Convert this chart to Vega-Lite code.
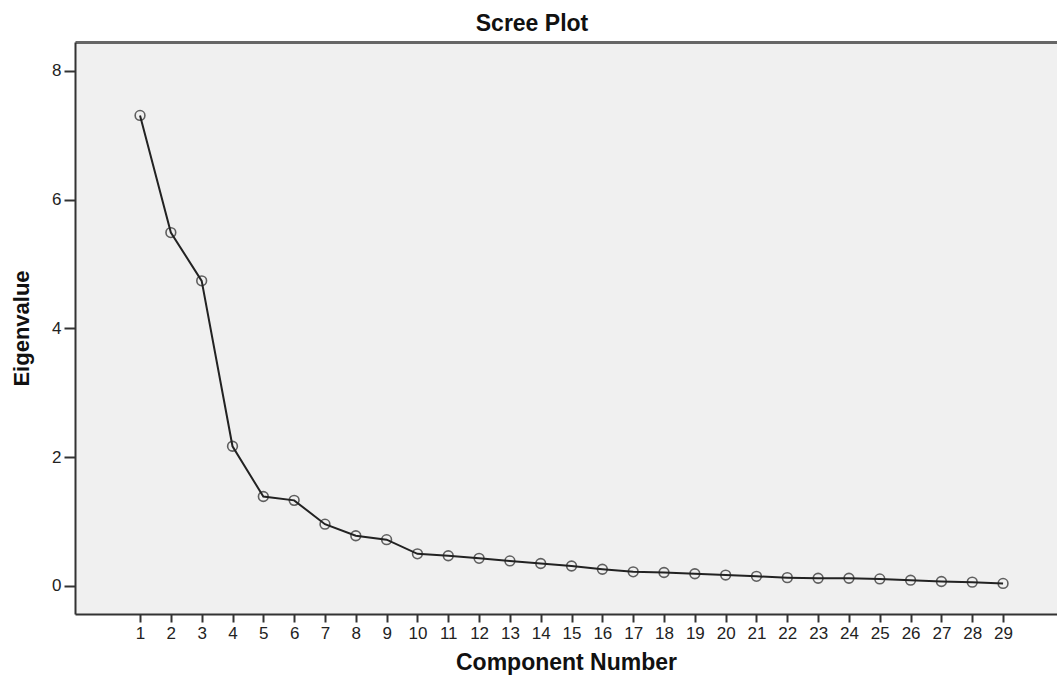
{
  "$schema": "https://vega.github.io/schema/vega-lite/v6.json",
  "width": 982,
  "height": 572,
  "autosize": {"type": "none"},
  "padding": {"left": 75, "top": 42, "right": 0, "bottom": 63},
  "background": "white",
  "config": {
    "view": {"fill": "#f0f0f0", "stroke": null},
    "font": "Liberation Sans"
  },
  "title": {
    "text": "Scree Plot",
    "font": "Liberation Sans",
    "fontSize": 23,
    "fontWeight": "bold",
    "color": "#111",
    "anchor": "middle",
    "frame": "group",
    "baseline": "alphabetic",
    "offset": 8,
    "dx": -34,
    "dy": 20
  },
  "data": {
    "values": [
      {"component": 1, "eigenvalue": 7.31},
      {"component": 2, "eigenvalue": 5.49},
      {"component": 3, "eigenvalue": 4.74},
      {"component": 4, "eigenvalue": 2.17},
      {"component": 5, "eigenvalue": 1.39},
      {"component": 6, "eigenvalue": 1.33},
      {"component": 7, "eigenvalue": 0.96},
      {"component": 8, "eigenvalue": 0.78},
      {"component": 9, "eigenvalue": 0.72},
      {"component": 10, "eigenvalue": 0.5},
      {"component": 11, "eigenvalue": 0.47},
      {"component": 12, "eigenvalue": 0.43},
      {"component": 13, "eigenvalue": 0.39},
      {"component": 14, "eigenvalue": 0.35},
      {"component": 15, "eigenvalue": 0.31},
      {"component": 16, "eigenvalue": 0.26},
      {"component": 17, "eigenvalue": 0.22},
      {"component": 18, "eigenvalue": 0.21},
      {"component": 19, "eigenvalue": 0.19},
      {"component": 20, "eigenvalue": 0.17},
      {"component": 21, "eigenvalue": 0.15},
      {"component": 22, "eigenvalue": 0.13},
      {"component": 23, "eigenvalue": 0.12},
      {"component": 24, "eigenvalue": 0.12},
      {"component": 25, "eigenvalue": 0.11},
      {"component": 26, "eigenvalue": 0.09},
      {"component": 27, "eigenvalue": 0.07},
      {"component": 28, "eigenvalue": 0.06},
      {"component": 29, "eigenvalue": 0.04}
    ]
  },
  "resolve": {"axis": {"x": "independent", "y": "independent"}},
  "layer": [
    {
      "mark": {"type": "line", "color": "#222", "strokeWidth": 2},
      "encoding": {
        "x": {
          "field": "component",
          "type": "quantitative",
          "scale": {"domain": [-1.11, 30.75], "nice": false, "zero": false},
          "axis": {
            "title": "Component Number",
            "titleFontSize": 23,
            "titleFontWeight": "bold",
            "titleColor": "#111",
            "titlePadding": 10,
            "values": [1,2,3,4,5,6,7,8,9,10,11,12,13,14,15,16,17,18,19,20,21,22,23,24,25,26,27,28,29],
            "labelFontSize": 17,
            "labelColor": "#222",
            "labelPadding": 3,
            "labelFlush": false,
            "labelOverlap": false,
            "tickSize": 8,
            "tickWidth": 2,
            "tickColor": "#333",
            "domainColor": "#333",
            "domainWidth": 2,
            "grid": false
          }
        },
        "y": {
          "field": "eigenvalue",
          "type": "quantitative",
          "scale": {"domain": [-0.435, 8.45], "nice": false, "zero": false},
          "axis": {
            "title": "Eigenvalue",
            "titleFontSize": 22,
            "titleFontWeight": "bold",
            "titleColor": "#111",
            "titlePadding": 18,
            "values": [0, 2, 4, 6, 8],
            "labelFontSize": 17,
            "labelColor": "#222",
            "labelPadding": 3,
            "labelFlush": false,
            "tickSize": 11,
            "tickWidth": 2,
            "tickColor": "#333",
            "domainColor": "#333",
            "domainWidth": 2,
            "grid": false
          }
        }
      }
    },
    {
      "mark": {"type": "point", "shape": "circle", "filled": false, "color": "#222", "strokeWidth": 1.6, "size": 95},
      "encoding": {
        "x": {
          "field": "component",
          "type": "quantitative",
          "axis": {
            "orient": "top",
            "title": null,
            "labels": false,
            "ticks": false,
            "grid": false,
            "domainColor": "#666",
            "domainWidth": 3
          }
        },
        "y": {
          "field": "eigenvalue",
          "type": "quantitative",
          "axis": null
        }
      }
    }
  ]
}
